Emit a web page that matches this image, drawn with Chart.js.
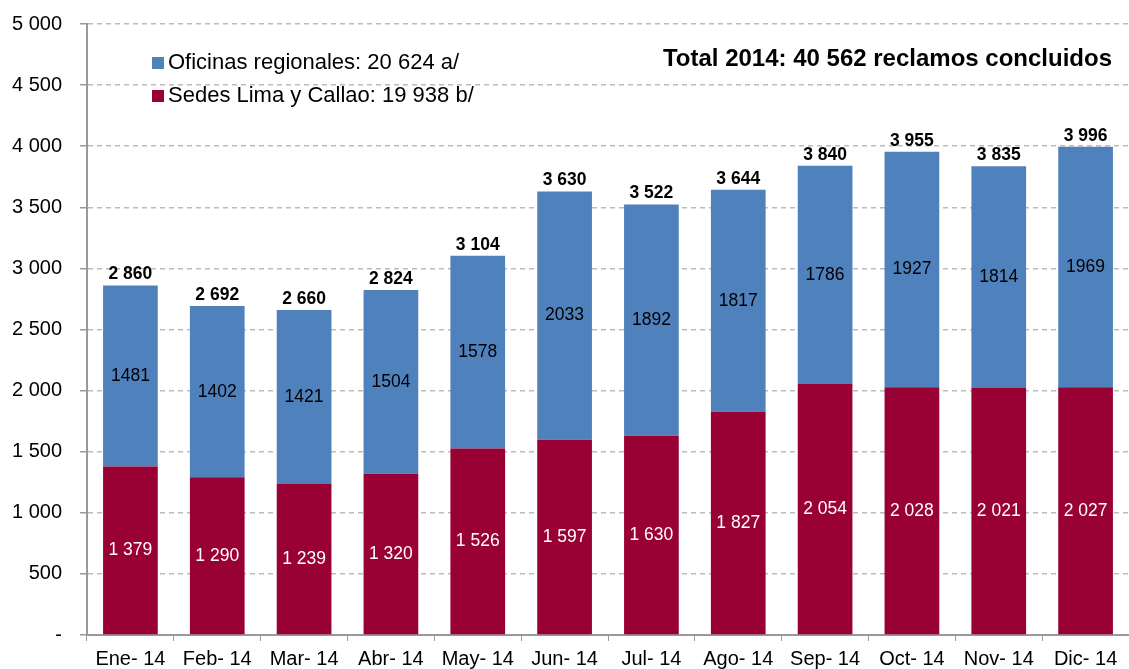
<!DOCTYPE html>
<html>
<head>
<meta charset="utf-8">
<script src="https://cdn.jsdelivr.net/npm/chart.js@4"></script>
<style>
  html, body { margin:0; padding:0; background:#fff; }
  #wrap { width:1129px; height:669px; position:relative; }
</style>
</head>
<body>
<div id="wrap"><canvas id="chart"></canvas></div>
<script>
// Reclamos concluidos 2014
const months     = ['Ene- 14','Feb- 14','Mar- 14','Abr- 14','May- 14','Jun- 14','Jul- 14','Ago- 14','Sep- 14','Oct- 14','Nov- 14','Dic- 14'];
const sedesLima  = [1379, 1290, 1239, 1320, 1526, 1597, 1630, 1827, 2054, 2028, 2021, 2027];
const oficinas   = [1481, 1402, 1421, 1504, 1578, 2033, 1892, 1817, 1786, 1927, 1814, 1969];
const legendText = ['Oficinas regionales: 20 624 a/', 'Sedes Lima y Callao: 19 938 b/'];
const titleText  = 'Total 2014: 40 562 reclamos concluidos';

const FONT = '"Liberation Sans", Arial, sans-serif';
const BLUE = '#4F81BD';
const RED  = '#990033';

const fmt = v => String(v).replace(/\B(?=(\d{3})+(?!\d))/g, ' ');

const labelsPlugin = {
  id: 'labels',
  afterDatasetsDraw(chart) {
    const ctx = chart.ctx;
    const red = chart.getDatasetMeta(0).data;
    const blue = chart.getDatasetMeta(1).data;
    ctx.save();
    ctx.textAlign = 'center';
    ctx.textBaseline = 'middle';
    red.forEach((bar, i) => {
      ctx.font = '17.5px ' + FONT;
      ctx.fillStyle = '#fff';
      ctx.fillText(fmt(sedesLima[i]), bar.x, (bar.y + bar.base) / 2);
      const b = blue[i];
      ctx.fillStyle = '#000';
      ctx.fillText(String(oficinas[i]), b.x, (b.y + b.base) / 2);
      ctx.font = 'bold 17.5px ' + FONT;
      ctx.fillText(fmt(sedesLima[i] + oficinas[i]), b.x, b.y - 11);
    });

    // legend
    const items = [[BLUE, legendText[0]], [RED, legendText[1]]];
    ctx.textAlign = 'left';
    ctx.font = '22px ' + FONT;
    items.forEach(([c, t], i) => {
      const y = 63 + i * 33;
      ctx.fillStyle = c;
      ctx.fillRect(152, y - 6, 12, 12);
      ctx.fillStyle = '#000';
      ctx.fillText(t, 168, y);
    });

    // title
    ctx.textAlign = 'right';
    ctx.font = 'bold 24px ' + FONT;
    ctx.fillText(titleText, 1112, 59);
    ctx.restore();
  }
};

new Chart(document.getElementById('chart'), {
  type: 'bar',
  data: {
    labels: months,
    datasets: [
      { label: legendText[1], data: sedesLima, backgroundColor: RED, borderWidth: 0,
        barPercentage: 0.63, categoryPercentage: 1 },
      { label: legendText[0], data: oficinas, backgroundColor: BLUE, borderWidth: 0,
        barPercentage: 0.63, categoryPercentage: 1 }
    ]
  },
  options: {
    responsive: true,
    maintainAspectRatio: false,
    animation: false,
    layout: { padding: { top: 24, right: 0, left: 0, bottom: 0 } },
    plugins: { legend: { display: false }, tooltip: { enabled: false } },
    scales: {
      x: {
        stacked: true,
        afterFit: s => { s.height = 34; s.paddingLeft = 0; s.paddingRight = 0; },
        grid: { drawOnChartArea: false, drawTicks: true, tickLength: 6, color: '#999', offset: true },
        border: { color: '#999', width: 2 },
        ticks: { color: '#000', font: { family: FONT, size: 20 }, padding: 6, maxRotation: 0, autoSkip: false }
      },
      y: {
        stacked: true,
        min: 0, max: 5000,
        afterFit: s => { s.width = 87; s.paddingTop = 0; s.paddingBottom = 0; },
        grid: { color: '#bbb', tickLength: 7, tickColor: '#999', tickBorderDash: [], lineWidth: 1.5 },
        border: { color: '#999', width: 2, dash: [5, 4] },
        ticks: {
          stepSize: 500, color: '#000', padding: 18,
          font: { family: FONT, size: 20 },
          callback: v => v === 0 ? '-' : fmt(v)
        }
      }
    }
  },
  plugins: [labelsPlugin]
});
</script>
</body>
</html>
